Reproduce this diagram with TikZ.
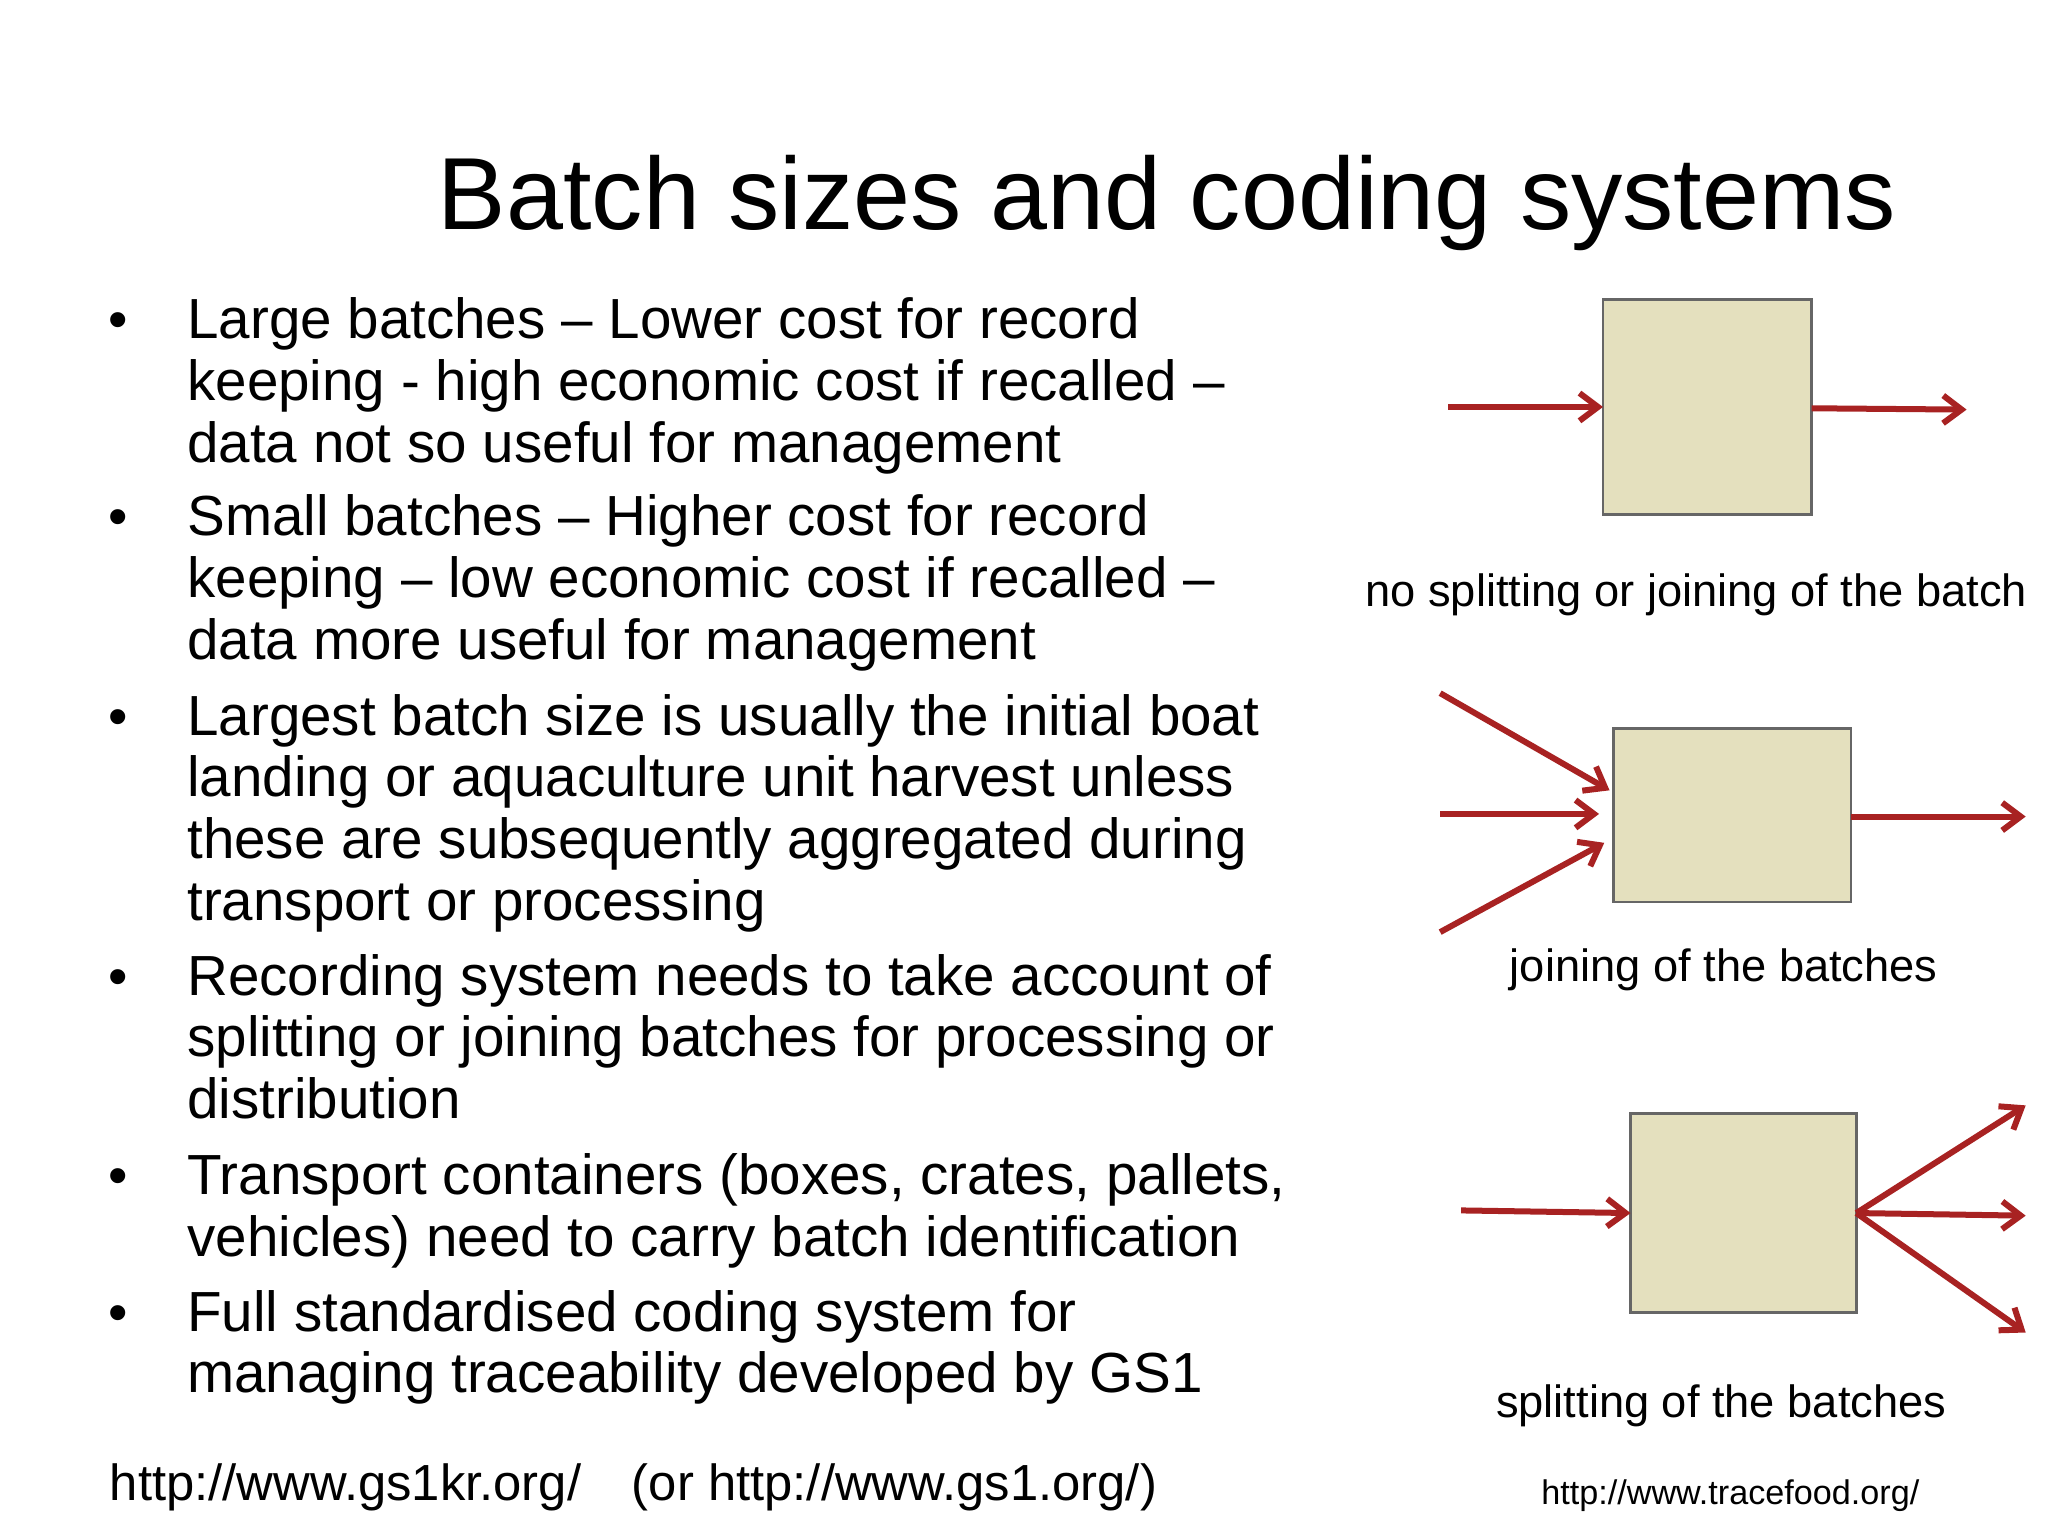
\documentclass[tikz,border=0pt]{standalone}
\usepackage{fontspec}
\setmainfont{Liberation Sans}
\usetikzlibrary{arrows.meta}
\definecolor{boxfill}{HTML}{E4E0BE}
\definecolor{arr}{HTML}{A82222}
\begin{document}
\begin{tikzpicture}[x=0.01cm,y=-0.01cm,
  bodyline/.style={anchor=base west,inner sep=0pt,font=\fontsize{12.25pt}{14pt}\selectfont},
  bul/.style={anchor=base west,inner sep=0pt,font=\fontsize{12pt}{14pt}\selectfont},
  captxt/.style={anchor=base,inner sep=0pt,font=\fontsize{9.8pt}{11pt}\selectfont},
  bbox/.style={draw=gray!80!black,fill=boxfill,line width=0.6pt,inner sep=0pt},
  rarr/.style={draw=arr,line width=1.3pt,-{Straight Barb[length=4pt,width=6pt]}}]
\useasboundingbox[fill=white] (0,0) rectangle (1560,1170);
\node[anchor=base,inner sep=0pt,font=\fontsize{22.2pt}{28pt}\selectfont] (title) at (889,175) {Batch sizes and coding systems};
\foreach \y in {258,408,560,758,910,1014} \node[bul] at (82,\y) {•};
\foreach \t/\y [count=\i] in {
 {Large batches – Lower cost for record}/258,
 {keeping - high economic cost if recalled –}/305,
 {data not so useful for management}/352,
 {Small batches – Higher cost for record}/408,
 {keeping – low economic cost if recalled –}/455,
 {data more useful for management}/502,
 {Largest batch size is usually the initial boat}/560,
 {landing or aquaculture unit harvest unless}/607,
 {these are subsequently aggregated during}/654,
 {transport or processing}/701,
 {Recording system needs to take account of}/758,
 {splitting or joining batches for processing or}/805,
 {distribution}/852,
 {Transport containers (boxes, crates, pallets,}/910,
 {vehicles) need to carry batch identification}/957,
 {Full standardised coding system for}/1014,
 {managing traceability developed by GS1}/1061}
 \node[bodyline] (l\i) at (142,\y) {\t};
\node[bodyline,font=\fontsize{11pt}{14pt}\selectfont] (url1) at (83,1143) {http://www.gs1kr.org/\quad(or http://www.gs1.org/)};
% box 1
\path (1221,228) coordinate (b1a) (1380,392) coordinate (b1b);
\draw[bbox] (b1a) rectangle (b1b);
\coordinate (a1) at (1103,310); \coordinate (b1w) at (1221,310);
\coordinate (b1e) at (1380,311); \coordinate (e1) at (1498,312);
\draw[rarr] (a1) -- (b1w);
\draw[rarr] (b1e) -- (e1);
\node[captxt] (c1) at (1292,462) {no splitting or joining of the batch};
% box 2
\coordinate (b2a) at (1229,555); \coordinate (b2b) at (1410,687);
\draw[bbox] (b2a) rectangle (b2b);
\coordinate (i21) at (1097,528); \coordinate (t21) at (1226,602);
\coordinate (i22) at (1097,620); \coordinate (t22) at (1218,620);
\coordinate (i23) at (1097,710); \coordinate (t23) at (1222,642);
\coordinate (o2s) at (1410,622); \coordinate (o2e) at (1543,622);
\draw[rarr] (i21) -- (t21);
\draw[rarr] (i22) -- (t22);
\draw[rarr] (i23) -- (t23);
\draw[rarr] (o2s) -- (o2e);
\node[captxt] (c2) at (1313,748) {joining of the batches};
% box 3
\coordinate (b3a) at (1242,848); \coordinate (b3b) at (1414,1000);
\draw[bbox] (b3a) rectangle (b3b);
\coordinate (i3) at (1113,922); \coordinate (t3) at (1242,924);
\coordinate (o3) at (1414,924);
\coordinate (e31) at (1543,842); \coordinate (e32) at (1543,926); \coordinate (e33) at (1543,1015);
\draw[rarr] (i3) -- (t3);
\draw[rarr] (o3) -- (e31);
\draw[rarr] (o3) -- (e32);
\draw[rarr] (o3) -- (e33);
\node[captxt] (c3) at (1311,1080) {splitting of the batches};
\node[captxt,font=\fontsize{7.4pt}{9pt}\selectfont] (url2) at (1318,1146) {http://www.tracefood.org/};
\end{tikzpicture}
\end{document}
